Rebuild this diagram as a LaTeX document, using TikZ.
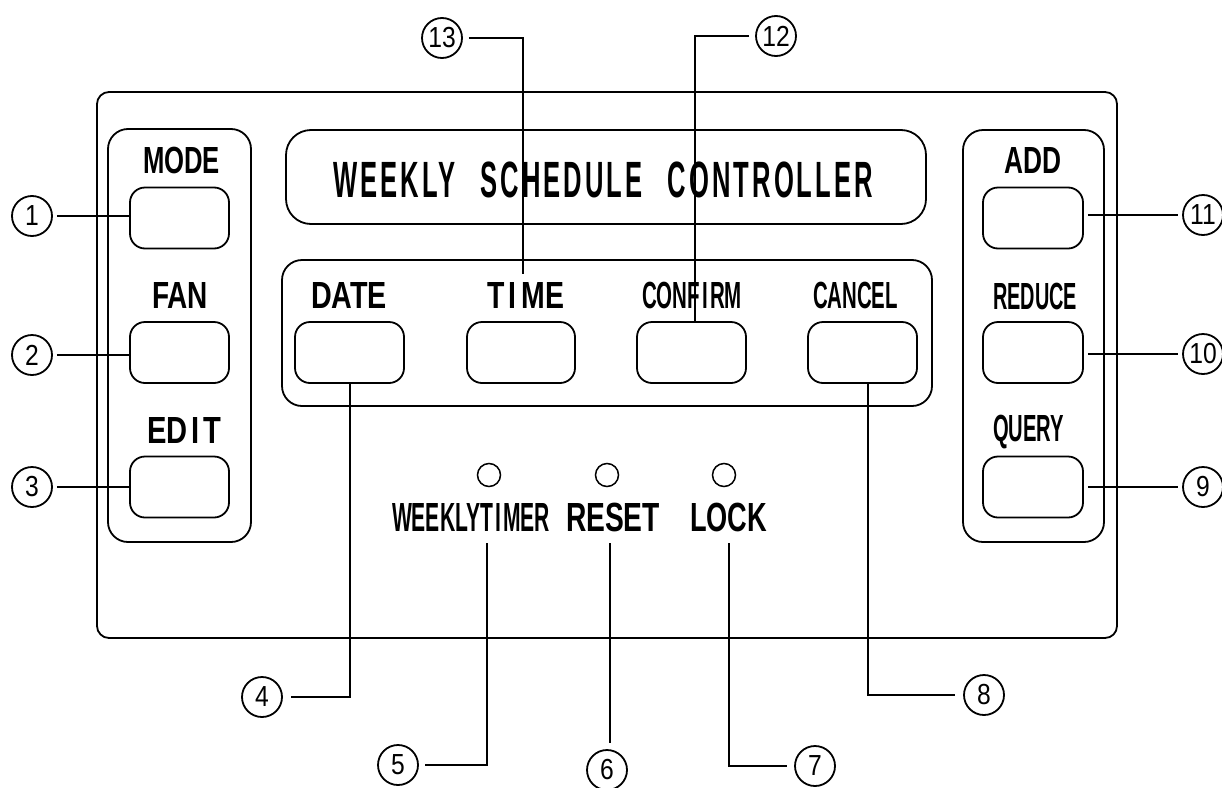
\documentclass[tikz,border=0pt]{standalone}
\usepackage{fontspec}
\setmainfont{Liberation Sans}
\newfontfamily\numfont[FakeStretch=0.85]{Liberation Sans}
\newfontfamily\titlefont[LetterSpace=12]{Liberation Sans}
\newcommand\fitw[2]{\resizebox{#1pt}{\height}{#2}}
\newcommand\capA{\fontsize{37.8}{40}\selectfont}
\newcommand\capB{\fontsize{40.7}{44}\selectfont}
\newcommand\capT{\fontsize{51}{55}\selectfont}
\tikzset{
  panel/.style={draw, rounded corners=#1, inner sep=0pt},
  panel/.default=20pt,
  btn/.style={draw, rounded corners=15pt, inner sep=0pt, minimum width=#1, minimum height=61pt},
  btn/.default=99pt,
  lbl/.style={inner sep=0pt, anchor=base},
  num/.style={draw, circle, minimum size=40pt, inner sep=0pt, font=\numfont\fontsize{29}{30}\selectfont},
  led/.style={draw, circle, minimum size=23pt, inner sep=0pt, line width=1.5pt},
  lead/.style={line width=1.8pt}
}
\begin{document}
\begin{tikzpicture}[x=1pt, y=-1pt, line width=1.8pt]
\useasboundingbox (0,0) rectangle (1222,787);

% housing and panels
\node[panel=12pt, minimum width=1020pt, minimum height=546pt] (outer) at (607,365) {};
\node[panel, minimum width=143pt, minimum height=413pt] (leftg) at (179.5,335.5) {};
\node[panel, minimum width=141pt, minimum height=412pt] (rightg) at (1033.5,336) {};
\node[panel, minimum width=650pt, minimum height=146pt] (midg) at (607,333) {};
\node[panel=25pt, minimum width=640pt, minimum height=94pt] (titleb) at (606,177) {};

% title
\node[lbl] (title) at (603,197) {\capT\titlefont\bfseries\fitw{540}{WEEKLY\hspace{50pt}SCHEDULE\hspace{50pt}CONTROLLER}};

% left buttons
\node[btn] (bmode) at (179.5,218) {};
\node[btn] (bfan) at (179.5,352.5) {};
\node[btn] (bedit) at (179.5,487) {};
\node[lbl] (tmode) at (181.5,173) {\capA\bfseries\fitw{77}{MODE}};
\node[lbl] (tfan) at (180,308) {\capA\bfseries\fitw{56}{FAN}};
\node[lbl] (tedit) at (184,443) {\capA\bfseries\fitw{74}{ED\kern5pt I\kern5pt T}};

% right buttons
\node[btn=100pt] (badd) at (1033,218) {};
\node[btn=100pt] (bred) at (1033,352.5) {};
\node[btn=100pt] (bqry) at (1033,487) {};
\node[lbl] (tadd) at (1032.5,173) {\capA\bfseries\fitw{57}{ADD}};
\node[lbl] (tred) at (1035,309) {\capA\bfseries\fitw{84}{REDUCE}};
\node[lbl] (tqry) at (1028.5,441) {\capA\bfseries\fitw{71}{QUERY}};

% middle buttons
\node[btn=109pt] (bdate) at (349.5,352.5) {};
\node[btn=108pt] (btime) at (521,352.5) {};
\node[btn=109pt] (bconf) at (691.5,352.5) {};
\node[btn=109pt] (bcanc) at (862.5,352.5) {};
\node[lbl] (tdate) at (349,308) {\capA\bfseries\fitw{76}{DATE}};
\node[lbl] (ttime) at (525.5,308) {\capA\bfseries\fitw{77}{T\kern6pt I\kern6pt ME}};
\node[lbl] (tconf) at (692,308) {\capA\bfseries\fitw{100}{CONF\kern4pt I\kern4pt RM}};
\node[lbl] (tcanc) at (855.5,308) {\capA\bfseries\fitw{85}{CANCEL}};

% indicator lamps
\node[led] (l1) at (489,475) {};
\node[led] (l2) at (607,475) {};
\node[led] (l3) at (724,475) {};
\node[lbl] (tweek) at (471,531) {\capB\bfseries\fitw{158}{WEEKLYT\kern4pt I\kern4pt MER}};
\node[lbl] (treset) at (613,531) {\capB\bfseries\fitw{94}{RESET}};
\node[lbl] (tlock) at (728.5,531) {\capB\bfseries\fitw{77}{LOCK}};

% circled numbers
\node[num] (c1) at (32,216) {1};
\node[num] (c2) at (32,355) {2};
\node[num] (c3) at (32,487) {3};
\node[num] (c4) at (262,697) {4};
\node[num] (c5) at (398,765) {5};
\node[num] (c6) at (607,770) {6};
\node[num] (c7) at (815,766) {7};
\node[num] (c8) at (984,695) {8};
\node[num] (c9) at (1203,487) {9};
\node[num] (c10) at (1203,354) {10};
\node[num] (c11) at (1203,215) {11};
\node[num] (c12) at (776,36) {12};
\node[num] (c13) at (442,38) {13};

% leader endpoints
\coordinate (e13) at (523,274);
\coordinate (e12) at (695,322);
\coordinate (s4) at (350,383);
\coordinate (p5) at (487,543);
\coordinate (p6) at (610,543);
\coordinate (q6) at (610,743);
\coordinate (p7) at (729,543);
\coordinate (s8) at (868,383);

% leaders
\draw[lead, shorten <=4pt] (c1.east) -- (c1.east -| bmode.west);
\draw[lead, shorten <=4pt] (c2.east) -- (c2.east -| bfan.west);
\draw[lead, shorten <=4pt] (c3.east) -- (c3.east -| bedit.west);
\draw[lead, shorten >=4pt] ([xshift=4pt]c11.west -| badd.east) -- (c11.west);
\draw[lead, shorten >=4pt] ([xshift=4pt]c10.west -| bred.east) -- (c10.west);
\draw[lead, shorten >=4pt] ([xshift=4pt]c9.west -| bqry.east) -- (c9.west);
\draw[lead, shorten <=6pt] (c13.east) -| (e13);
\draw[lead, shorten <=6pt] (c12.west) -| (e12);
\draw[lead, shorten >=8pt] (s4) |- (c4.east);
\draw[lead, shorten >=6pt] (p5) |- (c5.east);
\draw[lead] (p6) -- (q6);
\draw[lead, shorten >=7pt] (p7) |- (c7.west);
\draw[lead, shorten >=8pt] (s8) |- (c8.west);
\end{tikzpicture}
\end{document}
